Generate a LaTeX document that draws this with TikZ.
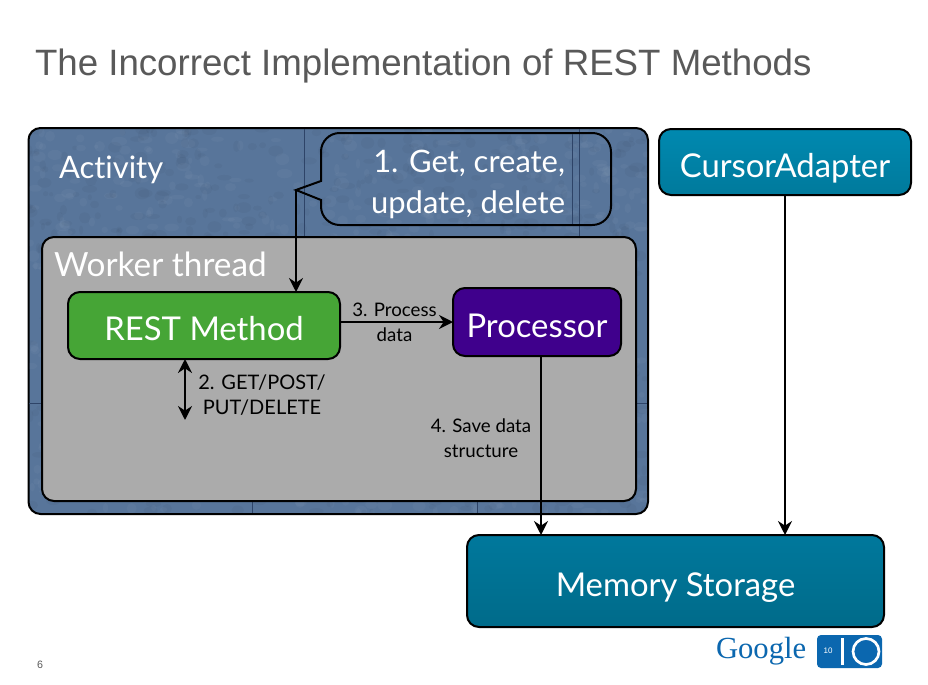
\documentclass[tikz,border=0pt]{standalone}
\usepackage{fontspec}
\setmainfont[Ligatures=NoCommon,Contextuals=NoAlternate]{Lato}
\newfontfamily\titlefont{Liberation Sans}
\newfontfamily\logofont{Liberation Serif}
\usetikzlibrary{arrows.meta,shadings}
\definecolor{slate}{HTML}{58759A}
\definecolor{slateline}{HTML}{2E4468}
\definecolor{gbox}{HTML}{ABABAB}
\definecolor{rest}{HTML}{46A536}
\definecolor{proc}{HTML}{3F008C}
\definecolor{tealA}{HTML}{0089B0}
\definecolor{tealB}{HTML}{007A9C}
\definecolor{memA}{HTML}{00789C}
\definecolor{memB}{HTML}{006B8A}
\definecolor{logoblue}{HTML}{0B67AF}
\definecolor{titlegrey}{HTML}{595959}
\tikzset{
  x=0.75pt,y=-0.75pt,
  every node/.style={inner sep=0pt,outer sep=0pt},
  box/.style={draw=black,line width=1.5pt,rounded corners=9pt},
  lowered/.style={text height=28pt,text depth=5pt},
  big/.style={text=white,font=\fontsize{24.6}{29}\selectfont},
  small/.style={text=black,font=\fontsize{14}{18.5}\selectfont,align=center},
  conn/.style={draw=black,line width=2.2pt,-{Stealth[length=10.5pt,width=10.5pt,inset=3.5pt]}},
  tile/.style={draw=slateline,line width=0.5pt},
}
\begin{document}
\begin{tikzpicture}
\useasboundingbox (0,0) rectangle (928,685);
\fill[white] (0,0) rectangle (928,685);
\node[anchor=west,text=titlegrey,font=\titlefont\fontsize{27.5}{32}\selectfont] (title) at (35,66) {The Incorrect Implementation of REST Methods};
% Activity
\node[box,fill=slate,minimum width={619.5*0.75pt},minimum height={386*0.75pt}] (activity) at (338.25,321) {};
% paper-like mottling of the Activity panel
\begin{scope}
\clip[rounded corners=9pt] (29,129) rectangle (647.5,513);
\pgfmathsetseed{17}
\foreach \n in {1,...,1500}{
  \pgfmathsetmacro{\rx}{29+rnd*618}
  \pgfmathsetmacro{\ry}{129+rnd*384}
  \pgfmathsetmacro{\rw}{2+rnd*6}
  \pgfmathsetmacro{\rh}{2+rnd*4}
  \pgfmathparse{rnd<0.5 ? "black" : "white"}
  \edef\rc{\pgfmathresult}
  \fill[\rc,opacity=0.03] (\rx,\ry) ellipse ({\rw} and {\rh});
}
\end{scope}
\foreach \xa/\ya/\xb/\yb in {304/129/304/237,579/129/579/237,252/501/252/513,477/501/477/513,29/403/42/403,636/403/647/403}
  \draw[tile] (\xa,\ya) -- (\xb,\yb);
\node[anchor=west,big,font=\fontsize{23.2}{29}\selectfont] (activitylabel) at (59,170) {Activity};
% Callout
\coordinate (tip) at (296,190);
\draw[draw=black,line width=1.5pt,rounded corners=9pt]
  (321,181) [sharp corners] -- (tip) -- (321,200) [rounded corners=14pt] -- (321,225) -- (611,225) -- (611,133) -- (321,133) -- (321,181) [sharp corners] -- cycle;
\draw[tile] (572,134) -- (572,224);
\node[big,font=\fontsize{23.2}{30.7}\selectfont,align=right,anchor=east] (callout) at (565,184) {1. Get, create,\\update, delete};
% Worker
\node[box,fill=gbox,minimum width={594*0.75pt},minimum height={264*0.75pt}] (worker) at (339,369) {};
\node[anchor=west,big,font=\fontsize{25}{29}\selectfont] (workerlabel) at (54,264) {Worker thread};
% Nodes
\node[box,big,lowered,fill=rest,minimum width={272*0.75pt},minimum height={67*0.75pt}] (restm) at (204,325.5) {REST Method};
\node[box,big,lowered,fill=proc,minimum width={168*0.75pt},minimum height={68*0.75pt}] (processor) at (537,322) {Processor};
\node[box,big,lowered,top color=tealA,bottom color=tealB,minimum width={252*0.75pt},minimum height={66*0.75pt}] (cursor) at (785,162) {CursorAdapter};
\node[box,big,lowered,top color=memA,bottom color=memB,minimum width={417*0.75pt},minimum height={92*0.75pt}] (memory) at (675.5,581) {Memory Storage};
% Connectors
\coordinate (restTop) at (296,292);
\draw[conn] (tip) -- (restTop);
\coordinate (restA) at (185,359);
\coordinate (restB) at (185,420);
\draw[conn,{Stealth[length=10.5pt,width=10.5pt,inset=3.5pt]}-{Stealth[length=10.5pt,width=10.5pt,inset=3.5pt]}] (restA) -- (restB);
\draw[conn] (restm.east |- processor.west) -- (processor.west);
\coordinate (procOut) at (541,356);
\coordinate (memIn) at (541,535);
\draw[conn] (procOut) -- (memIn);
\coordinate (curOut) at (785,195);
\coordinate (memIn2) at (785,535);
\draw[conn] (curOut) -- (memIn2);
% Small labels
\node[small] (l3) at (394.5,322) {3. Process\\data};
\node[small,font=\fontsize{15}{19}\selectfont] (l2) at (262,395) {2. GET/POST/\\PUT/DELETE};
\node[small] (l4) at (481,438) {4. Save data\\structure};
% Footer
\node[text=titlegrey,font=\titlefont\fontsize{8}{10}\selectfont] (pagenum) at (40,665) {6};
\node[anchor=west,text=logoblue,font=\logofont\fontsize{23}{30}\selectfont] (google) at (716,651) {Google};
\fill[logoblue,rounded corners=3pt] (817,635) rectangle (882,668);
\fill[white] (841,638) rectangle (844,665);
\draw[white,line width=2pt] (866,651.5) circle (13);
\node[text=white,font=\titlefont\fontsize{6}{7}\selectfont] (ten) at (828,651) {10};
\end{tikzpicture}
\end{document}
